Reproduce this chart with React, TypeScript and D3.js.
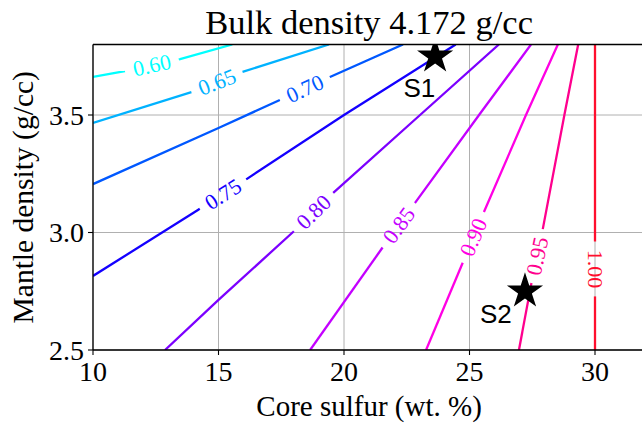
import React from 'react';
import * as d3 from 'd3';

const title = 'Bulk density 4.172 g/cc';
const xLabel = 'Core sulfur (wt. %)';
const yLabel = 'Mantle density (g/cc)';

const xDomain: [number, number] = [10, 32];
const yDomain: [number, number] = [2.5, 3.8];
const xTicks = [10, 15, 20, 25, 30];
const yTicks = [2.5, 3.0, 3.5];

// contour levels (core mass fraction) and their colours
const levels = [0.6, 0.65, 0.7, 0.75, 0.8, 0.85, 0.9, 0.95, 1.0];
const levelColors = ['#00ffff', '#00b2ff', '#0058ff', '#1400ff', '#7c00ff', '#c400ff', '#ff00e4', '#ff008e', '#ff0f2e'];

// contour traces: [core sulfur, mantle density]
const c060: [number, number][] = [[10, 3.662], [11.27, 3.687], [13.47, 3.738], [15.55, 3.8]];
const c065: [number, number][] = [[10, 3.466], [13.94, 3.598], [15.94, 3.683], [19.4, 3.8]];
const c070: [number, number][] = [[10, 3.206], [15, 3.445], [17.45, 3.564], [19.44, 3.662], [22.35, 3.8]];
const c075: [number, number][] = [[10, 2.815], [14.18, 3.096], [16.06, 3.223], [20, 3.5], [24.45, 3.8]];
const c080: [number, number][] = [[12.87, 2.5], [15, 2.713], [17.97, 3.002], [19.56, 3.168], [23.03, 3.5], [26.17, 3.8]];
const c085: [number, number][] = [[18.65, 2.5], [21.55, 2.938], [22.83, 3.126], [25.38, 3.5], [27.45, 3.8]];
const c090: [number, number][] = [[23.27, 2.5], [24.74, 2.874], [25.54, 3.079], [27.25, 3.5], [28.52, 3.8]];
const c095: [number, number][] = [[26.97, 2.5], [27.49, 2.798], [27.89, 2.998], [28.78, 3.5], [29.33, 3.8]];
const c100: [number, number][] = [[30, 2.5], [30, 3.8]];
const contourLines = [c060, c065, c070, c075, c080, c085, c090, c095, c100];

// where the inline labels sit on each contour
const labelAnchors: [number, number][] = [
  [12.35, 3.71], [14.94, 3.64], [18.45, 3.61], [15.14, 3.17], [18.76, 3.09],
  [22.19, 3.03], [25.14, 2.98], [27.69, 2.9], [30, 2.845],
];

// sample points
const sampleNames = ['S1', 'S2'];
const sampleX = [23.63, 27.21];
const sampleY = [3.75, 2.75];
const sampleLabelX = [23.0, 26.05];
const sampleLabelY = [3.617, 2.655];

const W = 642;
const H = 423;
const left = 93;
const right = 645.2;
const top = 44.5;
const bottom = 350;

const serif = '"Liberation Serif", "Times New Roman", serif';
const sans = '"Liberation Sans", Arial, sans-serif';

type P = [number, number];

// cut a gap in the polyline around the label anchor
function splitLine(pts: P[], a: P, half: number) {
  const cum = [0];
  let best = { d: Infinity, s: 0, ang: 0, p: [0, 0] as P };
  for (let i = 0; i < pts.length - 1; i++) {
    const [x0, y0] = pts[i];
    const [x1, y1] = pts[i + 1];
    const dx = x1 - x0, dy = y1 - y0;
    const len = Math.hypot(dx, dy);
    let t = ((a[0] - x0) * dx + (a[1] - y0) * dy) / (len * len);
    t = Math.max(0, Math.min(1, t));
    const px = x0 + t * dx, py = y0 + t * dy;
    const d = Math.hypot(a[0] - px, a[1] - py);
    if (d < best.d) best = { d, s: cum[i] + t * len, ang: (Math.atan2(dy, dx) * 180) / Math.PI, p: [px, py] };
    cum.push(cum[i] + len);
  }
  const pointAt = (s: number): P => {
    for (let i = 0; i < pts.length - 1; i++) {
      if (s <= cum[i + 1] || i === pts.length - 2) {
        const t = (s - cum[i]) / (cum[i + 1] - cum[i]);
        return [pts[i][0] + t * (pts[i + 1][0] - pts[i][0]), pts[i][1] + t * (pts[i + 1][1] - pts[i][1])];
      }
    }
    return pts[pts.length - 1];
  };
  const sub = (s0: number, s1: number): P[] => {
    if (s1 <= s0) return [];
    const out: P[] = [pointAt(s0)];
    cum.forEach((c, i) => { if (c > s0 && c < s1) out.push(pts[i]); });
    out.push(pointAt(s1));
    return out;
  };
  const L = cum[cum.length - 1];
  let ang = best.ang;
  if (ang > 90) ang -= 180;
  if (ang <= -90) ang += 180;
  return { parts: [sub(0, best.s - half), sub(best.s + half, L)], at: best.p, ang };
}

export default function App() {
  const x = d3.scaleLinear().domain(xDomain).range([left, right]);
  const y = d3.scaleLinear().domain(yDomain).range([bottom, top]);
  const line = d3.line<P>().x(d => d[0]).y(d => d[1]);
  const star = d3.symbol().type(d3.symbolStar).size(405)();

  const contours = contourLines.map((pts, i) => {
    const px = pts.map(d => [x(d[0]), y(d[1])] as P);
    const a: P = [x(labelAnchors[i][0]), y(labelAnchors[i][1])];
    return { ...splitLine(px, a, 27.5), color: levelColors[i], text: levels[i].toFixed(2) };
  });

  return (
    <svg width={W} height={H} style={{ position: 'absolute', left: 0, top: 0, background: '#fff' }}>
      <defs>
        <clipPath id="plot">
          <rect x={left} y={top} width={right - left} height={bottom - top} />
        </clipPath>
      </defs>
      <rect width={W} height={H} fill="#fff" />

      {/* grid */}
      <g stroke="#b0b0b0" strokeWidth={1}>
        {xTicks.map(t => <line key={t} x1={x(t)} x2={x(t)} y1={top} y2={bottom} />)}
        {yTicks.map(t => <line key={t} x1={left} x2={right} y1={y(t)} y2={y(t)} />)}
      </g>

      {/* contours */}
      <g clipPath="url(#plot)" fill="none" strokeWidth={2.3}>
        {contours.map((c, i) => (
          <g key={i} stroke={c.color}>
            {c.parts.filter(p => p.length > 1).map((p, j) => <path key={j} d={line(p) || ''} />)}
          </g>
        ))}
      </g>
      {contours.map((c, i) => (
        <text key={i} transform={`translate(${c.at[0]},${c.at[1]}) rotate(${c.ang})`}
          textAnchor="middle" dominantBaseline="central" fill={c.color}
          fontFamily={serif} fontSize={22}>{c.text}</text>
      ))}

      {/* samples */}
      <g clipPath="url(#plot)">
        {sampleNames.map((n, i) => (
          <path key={n} d={star || ''} transform={`translate(${x(sampleX[i])},${y(sampleY[i])})`} fill="#000" />
        ))}
      </g>
      {sampleNames.map((n, i) => (
        <text key={n} x={x(sampleLabelX[i])} y={y(sampleLabelY[i])} textAnchor="middle"
          dominantBaseline="central" fontFamily={sans} fontSize={26} fill="#000">{n}</text>
      ))}

      {/* spines */}
      <g stroke="#000" strokeWidth={1.3} fill="none">
        <line x1={left} x2={left} y1={top} y2={bottom} />
        <line x1={left} x2={right} y1={bottom} y2={bottom} />
        <line x1={left} x2={right} y1={top} y2={top} />
      </g>

      {/* ticks */}
      <g fontFamily={serif} fontSize={28} fill="#000">
        {xTicks.map(t => (
          <g key={t}>
            <line x1={x(t)} x2={x(t)} y1={bottom} y2={bottom + 5} stroke="#000" strokeWidth={1.1} />
            <text x={x(t)} y={bottom + 31} textAnchor="middle">{t}</text>
          </g>
        ))}
        {yTicks.map(t => (
          <g key={t}>
            <line x1={left - 5} x2={left} y1={y(t)} y2={y(t)} stroke="#000" strokeWidth={1.1} />
            <text x={left - 9} y={y(t)} textAnchor="end" dominantBaseline="central">{t.toFixed(1)}</text>
          </g>
        ))}
      </g>

      <text x={(left + right) / 2} y={34} textAnchor="middle" fontFamily={serif} fontSize={34.5}>{title}</text>
      <text x={(left + right) / 2} y={416} textAnchor="middle" fontFamily={serif} fontSize={29}>{xLabel}</text>
      <text transform={`translate(33,${(top + bottom) / 2}) rotate(-90)`} textAnchor="middle"
        fontFamily={serif} fontSize={29.5}>{yLabel}</text>
    </svg>
  );
}
